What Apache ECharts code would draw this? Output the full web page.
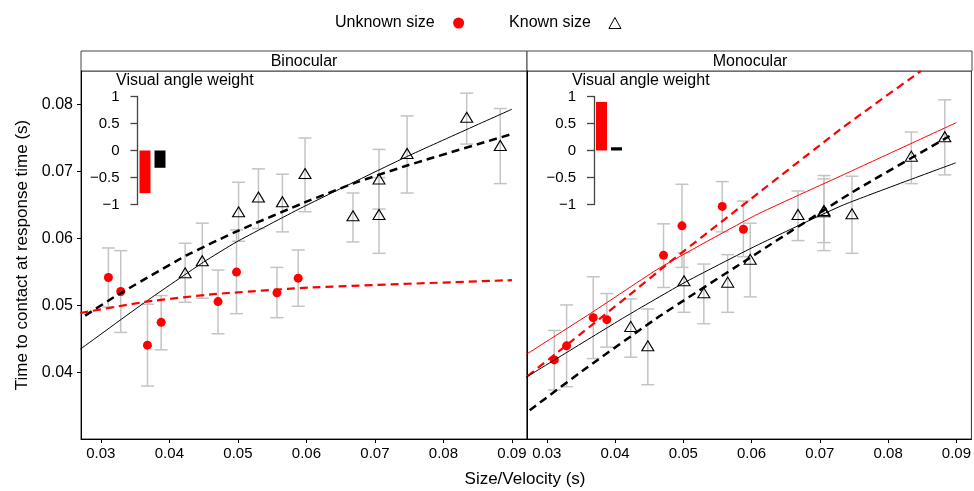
<!DOCTYPE html>
<html>
<head>
<meta charset="utf-8">
<script src="https://cdn.jsdelivr.net/npm/echarts@6/dist/echarts.min.js"></script>
<style>
  html, body { margin: 0; padding: 0; background: #fff; }
  #chart { width: 974px; height: 491px; }
</style>
</head>
<body>
<div id="chart"></div>
<script>
// tick labels
var xTicks = [0.03, 0.04, 0.05, 0.06, 0.07, 0.08, 0.09]
var yTicks = [0.04, 0.05, 0.06, 0.07, 0.08]

// size/velocity of the stimuli (same in both panels)
var unknownX = [0.0311, 0.0329, 0.0368, 0.0388, 0.0471, 0.0498, 0.0557, 0.0588]
var knownX = [0.0423, 0.0448, 0.0501, 0.0530, 0.0565, 0.0598, 0.0668, 0.0706, 0.0706, 0.0747, 0.0834, 0.0883]

// Binocular
var binUnknownY = [0.0542, 0.0521, 0.0441, 0.0475, 0.0506, 0.0550, 0.0519, 0.0541]
var binUnknownLo = [0.0498, 0.0460, 0.0380, 0.0434, 0.0458, 0.0488, 0.0482, 0.0499]
var binUnknownHi = [0.0586, 0.0582, 0.0502, 0.0515, 0.0553, 0.0613, 0.0557, 0.0583]
var binKnownY = [0.0549, 0.0567, 0.0640, 0.0662, 0.0655, 0.0697, 0.0634, 0.0689, 0.0636, 0.0727, 0.0781, 0.0739]
var binKnownLo = [0.0505, 0.0511, 0.0596, 0.0615, 0.0610, 0.0640, 0.0595, 0.0644, 0.0578, 0.0668, 0.0741, 0.0682]
var binKnownHi = [0.0593, 0.0623, 0.0684, 0.0704, 0.0696, 0.0750, 0.0668, 0.0733, 0.0691, 0.0783, 0.0817, 0.0794]

// Monocular
var monoUnknownY = [0.0419, 0.0440, 0.0482, 0.0479, 0.0575, 0.0619, 0.0648, 0.0614]
var monoUnknownLo = [0.0374, 0.0379, 0.0421, 0.0438, 0.0527, 0.0557, 0.0610, 0.0573]
var monoUnknownHi = [0.0463, 0.0501, 0.0543, 0.0518, 0.0622, 0.0681, 0.0685, 0.0656]
var monoKnownY = [0.0469, 0.0440, 0.0537, 0.0519, 0.0535, 0.0569, 0.0636, 0.0640, 0.0642, 0.0637, 0.0723, 0.0752]
var monoKnownLo = [0.0423, 0.0382, 0.0490, 0.0473, 0.0490, 0.0513, 0.0597, 0.0594, 0.0582, 0.0578, 0.0682, 0.0695]
var monoKnownHi = [0.0510, 0.0495, 0.0579, 0.0562, 0.0576, 0.0623, 0.0671, 0.0694, 0.0689, 0.0693, 0.0759, 0.0807]

// fitted curves
var binKnownSolidX = [0.0270, 0.0367, 0.0450, 0.0498, 0.0591, 0.0746, 0.0900]
var binKnownSolidY = [0.0435, 0.0507, 0.0565, 0.0595, 0.0645, 0.0722, 0.0793]
var binKnownDashX = [0.0277, 0.0323, 0.0425, 0.0501, 0.0600, 0.0668, 0.0747, 0.0900]
var binKnownDashY = [0.0485, 0.0515, 0.0575, 0.0612, 0.0655, 0.0682, 0.0709, 0.0756]
var binUnknownDashX = [0.0270, 0.0367, 0.0464, 0.0605, 0.0900]
var binUnknownDashY = [0.0489, 0.0506, 0.0517, 0.0527, 0.0538]

var monoUnknownSolidX = [0.0268, 0.0368, 0.0465, 0.0606, 0.0734, 0.0900]
var monoUnknownSolidY = [0.0426, 0.0491, 0.0556, 0.0635, 0.0695, 0.0773]
var monoUnknownDashX = [0.0272, 0.0329, 0.0420, 0.0479, 0.0581, 0.0734, 0.0848]
var monoUnknownDashY = [0.0395, 0.0441, 0.0515, 0.0564, 0.0645, 0.0766, 0.0850]
var monoKnownSolidX = [0.0268, 0.0416, 0.0501, 0.0606, 0.0734, 0.0899]
var monoKnownSolidY = [0.0392, 0.0484, 0.0534, 0.0589, 0.0650, 0.0713]
var monoKnownDashX = [0.0275, 0.0358, 0.0465, 0.0588, 0.0744, 0.0890]
var monoKnownDashY = [0.0344, 0.0407, 0.0484, 0.0565, 0.0667, 0.0753]

// visual angle weight insets
var weightCats = ['Unknown size', 'Known size']
var binWeights = [-0.79, -0.32]
var monoWeights = [0.90, 0.06]

var FONT = '"Liberation Sans", Arial, Helvetica, sans-serif'
var RED = '#ff0000'
var weightColors = [RED, '#000000']

function pairs(xs, ys) {
  return xs.map(function (x, i) { return [x, ys[i]] })
}

function fmt(v) {
  return Number(v).toFixed(2)
}

function errorBars(xs, lo, hi, idx) {
  return {
    type: 'custom',
    xAxisIndex: idx,
    yAxisIndex: idx,
    z: 1,
    silent: true,
    data: xs.map(function (x, i) { return [x, lo[i], hi[i]] }),
    encode: { x: 0, y: [1, 2] },
    renderItem: function (params, api) {
      var top = api.coord([api.value(0), api.value(2)])
      var bot = api.coord([api.value(0), api.value(1)])
      var hw = 6.5
      var st = { stroke: '#c4c4c4', lineWidth: 1.5 }
      return {
        type: 'group',
        children: [
          { type: 'line', shape: { x1: top[0], y1: top[1], x2: bot[0], y2: bot[1] }, style: st },
          { type: 'line', shape: { x1: top[0] - hw, y1: top[1], x2: top[0] + hw, y2: top[1] }, style: st },
          { type: 'line', shape: { x1: bot[0] - hw, y1: bot[1], x2: bot[0] + hw, y2: bot[1] }, style: st }
        ]
      }
    }
  }
}

function unknownPoints(ys, idx) {
  return {
    name: 'Unknown size',
    type: 'scatter',
    xAxisIndex: idx,
    yAxisIndex: idx,
    z: 2,
    symbol: 'circle',
    symbolSize: 9,
    itemStyle: { color: RED, opacity: 1 },
    data: pairs(unknownX, ys)
  }
}

function knownPoints(ys, idx) {
  return {
    name: 'Known size',
    type: 'scatter',
    xAxisIndex: idx,
    yAxisIndex: idx,
    z: 2,
    symbol: 'triangle',
    symbolSize: [12, 10],
    itemStyle: { color: 'rgba(0,0,0,0)', borderColor: '#000', borderWidth: 1.1, opacity: 1 },
    data: pairs(knownX, ys)
  }
}

function curve(xs, ys, idx, color, dashed) {
  return {
    type: 'line',
    xAxisIndex: idx,
    yAxisIndex: idx,
    z: 3,
    silent: true,
    showSymbol: false,
    smooth: 0.15,
    lineStyle: dashed
      ? { color: color, width: color === RED ? 2.2 : 2.5, type: [8, 5] }
      : { color: color, width: 1 },
    data: pairs(xs, ys)
  }
}

function weightBars(vals, idx) {
  return {
    type: 'bar',
    xAxisIndex: idx,
    yAxisIndex: idx,
    silent: true,
    barWidth: 11,
    data: vals.map(function (v, i) {
      return { value: v, itemStyle: { color: weightColors[i] } }
    })
  }
}

function mainX(idx) {
  return {
    type: 'value',
    gridIndex: idx,
    min: 0.0271,
    max: 0.0922,
    axisLine: { show: true, lineStyle: { color: '#000', width: 1 } },
    axisTick: { show: true, length: 4, customValues: xTicks, lineStyle: { color: '#000' } },
    axisLabel: { customValues: xTicks, formatter: fmt, margin: 7, fontSize: 15, fontFamily: FONT, color: '#000' },
    splitLine: { show: false }
  }
}

function insetX(idx) {
  return { type: 'category', gridIndex: idx, data: weightCats, show: false }
}

function insetY(idx) {
  return {
    type: 'value',
    gridIndex: idx,
    min: -1,
    max: 1,
    interval: 0.5,
    axisLine: { show: true, lineStyle: { color: '#444', width: 1.3 } },
    axisTick: { show: true, length: 7, lineStyle: { color: '#444', width: 1.3 } },
    axisLabel: {
      margin: 18,
      fontSize: 15,
      fontFamily: FONT,
      color: '#000',
      formatter: function (v) { return String(v).replace('-', '\u2212') }
    },
    splitLine: { show: false }
  }
}

var chart = echarts.init(document.getElementById('chart'), null, { renderer: 'canvas' })

chart.setOption({
  animation: false,
  backgroundColor: '#fff',
  textStyle: { fontFamily: FONT },
  legend: {
    left: 330,
    top: 10,
    align: 'right',
    itemWidth: 12,
    itemHeight: 11,
    itemGap: 45,
    selectedMode: false,
    textStyle: { fontSize: 16, fontFamily: FONT, color: '#000', padding: [0, 13, 0, 0] },
    data: [
      { name: 'Unknown size', icon: 'circle', itemStyle: { color: RED, opacity: 1 } },
      { name: 'Known size', icon: 'triangle', itemStyle: { color: 'rgba(0,0,0,0)', borderColor: '#000', borderWidth: 1 } }
    ]
  },
  grid: [
    { left: 81, top: 71, width: 446, height: 368, show: true, borderColor: '#333', borderWidth: 1 },
    { left: 527, top: 71, width: 445, height: 368, show: true, borderColor: '#333', borderWidth: 1 },
    { left: 137.5, top: 96.5, width: 30, height: 108 },
    { left: 594, top: 96.5, width: 30, height: 108 }
  ],
  xAxis: [mainX(0), mainX(1), insetX(2), insetX(3)],
  yAxis: [
    {
      type: 'value',
      gridIndex: 0,
      min: 0.0301,
      max: 0.085,
      name: 'Time to contact at response time (s)',
      nameLocation: 'middle',
      nameGap: 50,
      nameTextStyle: { fontSize: 17, fontFamily: FONT, color: '#000' },
      axisLine: { show: true, lineStyle: { color: '#000', width: 1 } },
      axisTick: { show: true, length: 4, customValues: yTicks, lineStyle: { color: '#000' } },
      axisLabel: { customValues: yTicks, formatter: fmt, margin: 8, fontSize: 16, fontFamily: FONT, color: '#000' },
      splitLine: { show: false }
    },
    {
      type: 'value',
      gridIndex: 1,
      min: 0.0301,
      max: 0.085,
      axisLine: { show: true, lineStyle: { color: '#000', width: 1 } },
      axisTick: { show: false },
      axisLabel: { show: false },
      splitLine: { show: false }
    },
    insetY(2),
    insetY(3)
  ],
  graphic: [
    { type: 'rect', shape: { x: 81, y: 51, width: 446, height: 20 }, style: { fill: '#fff', stroke: '#444', lineWidth: 1 } },
    { type: 'rect', shape: { x: 527, y: 51, width: 445, height: 20 }, style: { fill: '#fff', stroke: '#444', lineWidth: 1 } },
    { type: 'text', x: 304, y: 61.5, style: { text: 'Binocular', fontSize: 16, fontFamily: FONT, fill: '#000', align: 'center', verticalAlign: 'middle' } },
    { type: 'text', x: 750, y: 61.5, style: { text: 'Monocular', fontSize: 16, fontFamily: FONT, fill: '#000', align: 'center', verticalAlign: 'middle' } },
    { type: 'text', x: 116, y: 81, style: { text: 'Visual angle weight', fontSize: 16, fontFamily: FONT, fill: '#000', align: 'left', verticalAlign: 'middle' } },
    { type: 'text', x: 572, y: 81, style: { text: 'Visual angle weight', fontSize: 16, fontFamily: FONT, fill: '#000', align: 'left', verticalAlign: 'middle' } },
    { type: 'text', x: 525, y: 479, style: { text: 'Size/Velocity (s)', fontSize: 17, fontFamily: FONT, fill: '#000', align: 'center', verticalAlign: 'middle' } }
  ],
  series: [
    errorBars(unknownX, binUnknownLo, binUnknownHi, 0),
    errorBars(knownX, binKnownLo, binKnownHi, 0),
    unknownPoints(binUnknownY, 0),
    knownPoints(binKnownY, 0),
    curve(binKnownSolidX, binKnownSolidY, 0, '#000', false),
    curve(binKnownDashX, binKnownDashY, 0, '#000', true),
    curve(binUnknownDashX, binUnknownDashY, 0, RED, true),

    errorBars(unknownX, monoUnknownLo, monoUnknownHi, 1),
    errorBars(knownX, monoKnownLo, monoKnownHi, 1),
    unknownPoints(monoUnknownY, 1),
    knownPoints(monoKnownY, 1),
    curve(monoUnknownSolidX, monoUnknownSolidY, 1, RED, false),
    curve(monoUnknownDashX, monoUnknownDashY, 1, RED, true),
    curve(monoKnownSolidX, monoKnownSolidY, 1, '#000', false),
    curve(monoKnownDashX, monoKnownDashY, 1, '#000', true),

    weightBars(binWeights, 2),
    weightBars(monoWeights, 3)
  ]
})
</script>
</body>
</html>
